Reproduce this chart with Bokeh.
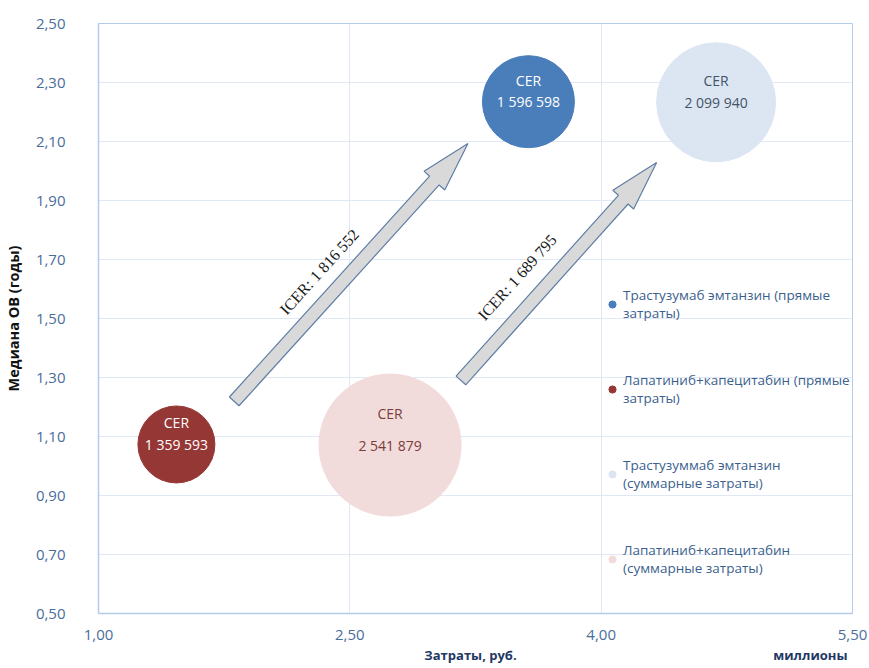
import math
from bokeh.plotting import figure
from bokeh.models import (ColumnDataSource, FixedTicker, Legend, LegendItem,
                          Range1d, CustomJSTickFormatter)
from bokeh.core.properties import value
from bokeh.embed import file_html
from bokeh.resources import INLINE

# ---------------- data ----------------
series = [
    "Трастузумаб эмтанзин (прямые\nзатраты)",
    "Лапатиниб+капецитабин (прямые\nзатраты)",
    "Трастузуммаб эмтанзин\n(суммарные затраты)",
    "Лапатиниб+капецитабин\n(суммарные затраты)",
]
cost_mln = [3.566, 1.465, 4.686, 2.740]        # Затраты, млн руб.
median_os = [2.235, 1.073, 2.233, 1.071]       # Медиана ОВ, годы
cer_values = ["1 596 598", "1 359 593", "2 099 940", "2 541 879"]
cer_title = ["CER", "CER", "CER", "CER"]

icer_labels = ["ICER: 1 816 552", "ICER: 1 689 795"]
icer_from_x = [1.810, 3.163]
icer_from_y = [1.219, 1.290]
icer_to_x = [3.205, 4.331]
icer_to_y = [2.093, 2.029]

x_ticks = [1.0, 2.5, 4.0, 5.5]
x_tick_labels = ["1,00", "2,50", "4,00", "5,50"]
y_ticks = [0.5, 0.7, 0.9, 1.1, 1.3, 1.5, 1.7, 1.9, 2.1, 2.3, 2.5]
y_tick_labels = ["0,50", "0,70", "0,90", "1,10", "1,30", "1,50",
                 "1,70", "1,90", "2,10", "2,30", "2,50"]
x_title = "Затраты, руб."
x_unit_label = "миллионы"
y_title = "Медиана ОВ (годы)"

# ---------------- styles ----------------
bubble_px = [92, 77, 119, 142]
colors = ["#4a7ebb", "#953735", "#dce6f2", "#f2dcdb"]
text_colors = ["#ffffff", "#ffffff", "#44546a", "#7b3b3b"]
cer_offsets = [-21, -22, -22, -32]
icer_frac = [0.44, 0.39]
icer_perp = [24, 27]

W, H = 869, 668
BL, BR, BT, BB = 97, 17, 23, 55
X0, X1, Y0, Y1 = 1.0, 5.5, 0.5, 2.5
FW, FH = W - BL - BR, H - BT - BB
SX, SY = FW / (X1 - X0), FH / (Y1 - Y0)

FONT = "Open Sans"
TICK_COL = "#4a6d9b"
GRID_COL = "#dfe8f4"
AXIS_COL = "#b4cbea"
NB = "\u00a0"

p = figure(width=W, height=H, output_backend="svg", toolbar_location=None,
           x_range=Range1d(X0, X1), y_range=Range1d(Y0, Y1),
           min_border_left=BL, min_border_right=BR, min_border_top=BT,
           min_border_bottom=BB, background_fill_color="white",
           border_fill_color="white")

p.outline_line_color = AXIS_COL
p.outline_line_width = 1

# axes
for ax, tks, labels in ((p.xaxis[0], x_ticks, x_tick_labels),
                        (p.yaxis[0], y_ticks, y_tick_labels)):
    ax.ticker = FixedTicker(ticks=tks)
    ax.formatter = CustomJSTickFormatter(
        args=dict(tv=tks, tl=labels),
        code="const i = tv.findIndex(t => Math.abs(t - tick) < 1e-9); return i >= 0 ? tl[i] : '';")
    ax.major_tick_line_color = None
    ax.minor_tick_line_color = None
    ax.axis_line_color = AXIS_COL
    ax.axis_line_width = 1.5
    ax.major_label_text_font = FONT
    ax.major_label_text_font_size = "15px"
    ax.major_label_text_color = TICK_COL
    ax.axis_label_text_font = FONT
    ax.axis_label_text_font_style = "bold"

p.xaxis.major_label_standoff = 10
# title on the left, unit ("миллионы") at the right end of the axis
p.xaxis.axis_label = NB * 95 + x_title + NB * 76 + x_unit_label
p.xaxis.axis_label_text_color = "#1f3864"
p.xaxis.axis_label_text_font_size = "13px"
p.xaxis.axis_label_standoff = 3

p.yaxis.major_label_standoff = 27
p.yaxis.axis_label = y_title
p.yaxis.axis_label_text_color = "#111111"
p.yaxis.axis_label_text_font_size = "14.5px"
p.yaxis.axis_label_standoff = 10

p.xgrid.ticker = FixedTicker(ticks=x_ticks)
p.ygrid.ticker = FixedTicker(ticks=y_ticks)
p.xgrid.grid_line_color = GRID_COL
p.ygrid.grid_line_color = GRID_COL

# arrows (block arrows built in pixel space, converted back to data)
def arrow_poly(x0, y0, x1, y1, half_shaft=6.5, half_head=14.0, head_len=50.0):
    px0, py0 = (x0 - X0) * SX, (y0 - Y0) * SY
    px1, py1 = (x1 - X0) * SX, (y1 - Y0) * SY
    dx, dy = px1 - px0, py1 - py0
    L = math.hypot(dx, dy)
    ux, uy = dx / L, dy / L
    nx, ny = -uy, ux
    bx, by = px1 - ux * head_len, py1 - uy * head_len
    pts = [
        (px0 + nx * half_shaft, py0 + ny * half_shaft),
        (bx + nx * half_shaft, by + ny * half_shaft),
        (bx + nx * half_head, by + ny * half_head),
        (px1, py1),
        (bx - nx * half_head, by - ny * half_head),
        (bx - nx * half_shaft, by - ny * half_shaft),
        (px0 - nx * half_shaft, py0 - ny * half_shaft),
    ]
    return [X0 + a / SX for a, _ in pts], [Y0 + b / SY for _, b in pts]

axs, ays, tx, ty, tang = [], [], [], [], []
for i in range(len(icer_labels)):
    xs, ys = arrow_poly(icer_from_x[i], icer_from_y[i], icer_to_x[i], icer_to_y[i])
    axs.append(xs)
    ays.append(ys)
    px0, py0 = (icer_from_x[i] - X0) * SX, (icer_from_y[i] - Y0) * SY
    px1, py1 = (icer_to_x[i] - X0) * SX, (icer_to_y[i] - Y0) * SY
    dx, dy = px1 - px0, py1 - py0
    L = math.hypot(dx, dy)
    ux, uy = dx / L, dy / L
    nx, ny = -uy, ux
    cx = px0 + dx * icer_frac[i] + nx * icer_perp[i]
    cy = py0 + dy * icer_frac[i] + ny * icer_perp[i]
    tx.append(X0 + cx / SX)
    ty.append(Y0 + cy / SY)
    tang.append(math.atan2(dy, dx))

p.patches(xs=axs, ys=ays, fill_color="#d9d9d9", line_color="#5f7ea6", line_width=1.2)
p.text(x=tx, y=ty, text=icer_labels, angle=tang, text_font=value("Liberation Serif"),
       text_font_size="16px", text_color="#1a1a1a", text_align="center",
       text_baseline="middle")

# bubbles
src = ColumnDataSource(dict(x=cost_mln, y=median_os, size=bubble_px, color=colors,
                            tcol=text_colors, cer=cer_values, title=cer_title,
                            off=cer_offsets, label=series))
r = p.scatter(x="x", y="y", size="size", fill_color="color", line_color="color",
              source=src)
p.text(x="x", y="y", text="title", y_offset="off", text_color="tcol", source=src,
       text_font=value(FONT), text_font_size="14px", text_align="center",
       text_baseline="middle")
p.text(x="x", y="y", text="cer", text_color="tcol", source=src,
       text_font=value(FONT), text_font_size="14px", text_align="center",
       text_baseline="middle")

legend = Legend(items=[LegendItem(label=series[i], renderers=[r], index=i)
                       for i in range(len(series))],
                location=(505, 36), orientation="vertical",
                glyph_width=18, glyph_height=18, label_standoff=2,
                spacing=49, padding=0, margin=0,
                label_text_font=FONT, label_text_font_size="13.5px",
                label_text_color="#3c5f8e", label_text_line_height=1.6,
                background_fill_alpha=0, border_line_alpha=0)
p.add_layout(legend)

open("out.html", "w").write(file_html(p, INLINE))
